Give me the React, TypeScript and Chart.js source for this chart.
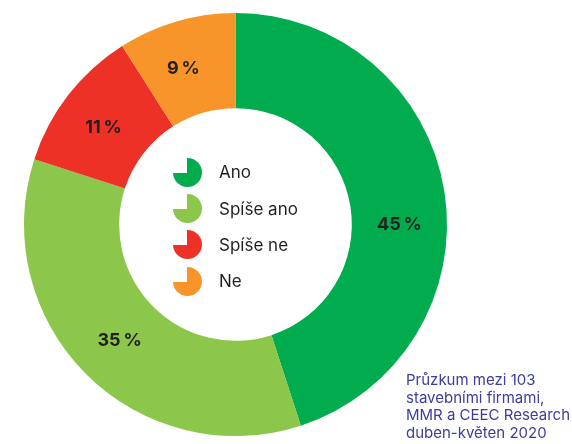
import React, { useEffect, useRef } from "react";
import { Chart, registerables } from "chart.js";

Chart.register(...registerables);

const categories = ["Ano", "Spíše ano", "Spíše ne", "Ne"];
const shares = [45, 35, 11, 9];
const colors = ["#00AC4E", "#8CC64B", "#EE3127", "#F7942A"];
const valueLabels = ["45\u2009%", "35\u2009%", "11\u2009%", "9\u2009%"];
const labelAngleNudge = [9, 0, -1.4, -2.3];
const footnoteLines = [
  "Průzkum mezi 103",
  "stavebními firmami,",
  "MMR a CEEC Research",
  "duben-květen 2020",
];

const FONT = "Inter, Roboto, 'Noto Sans', sans-serif";

const labelPlugin = {
  id: "sliceLabels",
  afterDatasetsDraw(chart: any) {
    const ctx = chart.ctx;
    const meta = chart.getDatasetMeta(0);
    ctx.save();
    ctx.font = `700 18px ${FONT}`;
    ctx.fillStyle = "#231F20";
    ctx.textAlign = "center";
    ctx.textBaseline = "middle";
    meta.data.forEach((arc: any, i: number) => {
      const p = arc.getProps(["x", "y", "startAngle", "endAngle", "innerRadius", "outerRadius"], true);
      const mid = (p.startAngle + p.endAngle) / 2 + (labelAngleNudge[i] * Math.PI) / 180;
      const r = (p.innerRadius + p.outerRadius) / 2;
      ctx.fillText(valueLabels[i], p.x + Math.cos(mid) * r, p.y + Math.sin(mid) * r);
    });
    ctx.restore();
  },
};

export default function App() {
  const ref = useRef<HTMLCanvasElement>(null);
  useEffect(() => {
    if (!ref.current) return;
    const chart = new Chart(ref.current, {
      type: "doughnut",
      data: {
        labels: categories,
        datasets: [
          {
            data: shares,
            backgroundColor: colors,
            borderWidth: 0,
          },
        ],
      },
      options: {
        responsive: false,
        animation: false,
        cutout: "55%",
        layout: { padding: { left: 24, right: 125, top: 13, bottom: 8 } },
        plugins: {
          legend: { display: false },
          tooltip: { enabled: false },
        },
      },
      plugins: [labelPlugin],
    });
    return () => chart.destroy();
  }, []);

  return (
    <div
      style={{
        position: "fixed",
        left: 0,
        top: 0,
        width: 572,
        height: 444,
        background: "#fff",
        fontFamily: FONT,
      }}
    >
      <canvas ref={ref} width={572} height={444} style={{ display: "block" }} />
      <div style={{ position: "absolute", left: 173, top: 154 }}>
        {categories.map((c, i) => (
          <div
            key={c}
            style={{ display: "flex", alignItems: "center", height: 36.4 }}
          >
            <div
              style={{
                width: 29,
                height: 29,
                borderRadius: "50%",
                background: `conic-gradient(${colors[i]} 0deg 270deg, transparent 270deg 360deg)`,
              }}
            />
            <span
              style={{
                marginLeft: 17,
                fontSize: 17,
                color: "#231F20",
                lineHeight: "20px",
              }}
            >
              {c}
            </span>
          </div>
        ))}
      </div>
      <div
        style={{
          position: "absolute",
          left: 406,
          top: 371,
          fontSize: 15,
          lineHeight: "17.5px",
          color: "#3B3E9C",
          whiteSpace: "nowrap",
        }}
      >
        {footnoteLines.map((l) => (
          <div key={l}>{l}</div>
        ))}
      </div>
    </div>
  );
}
